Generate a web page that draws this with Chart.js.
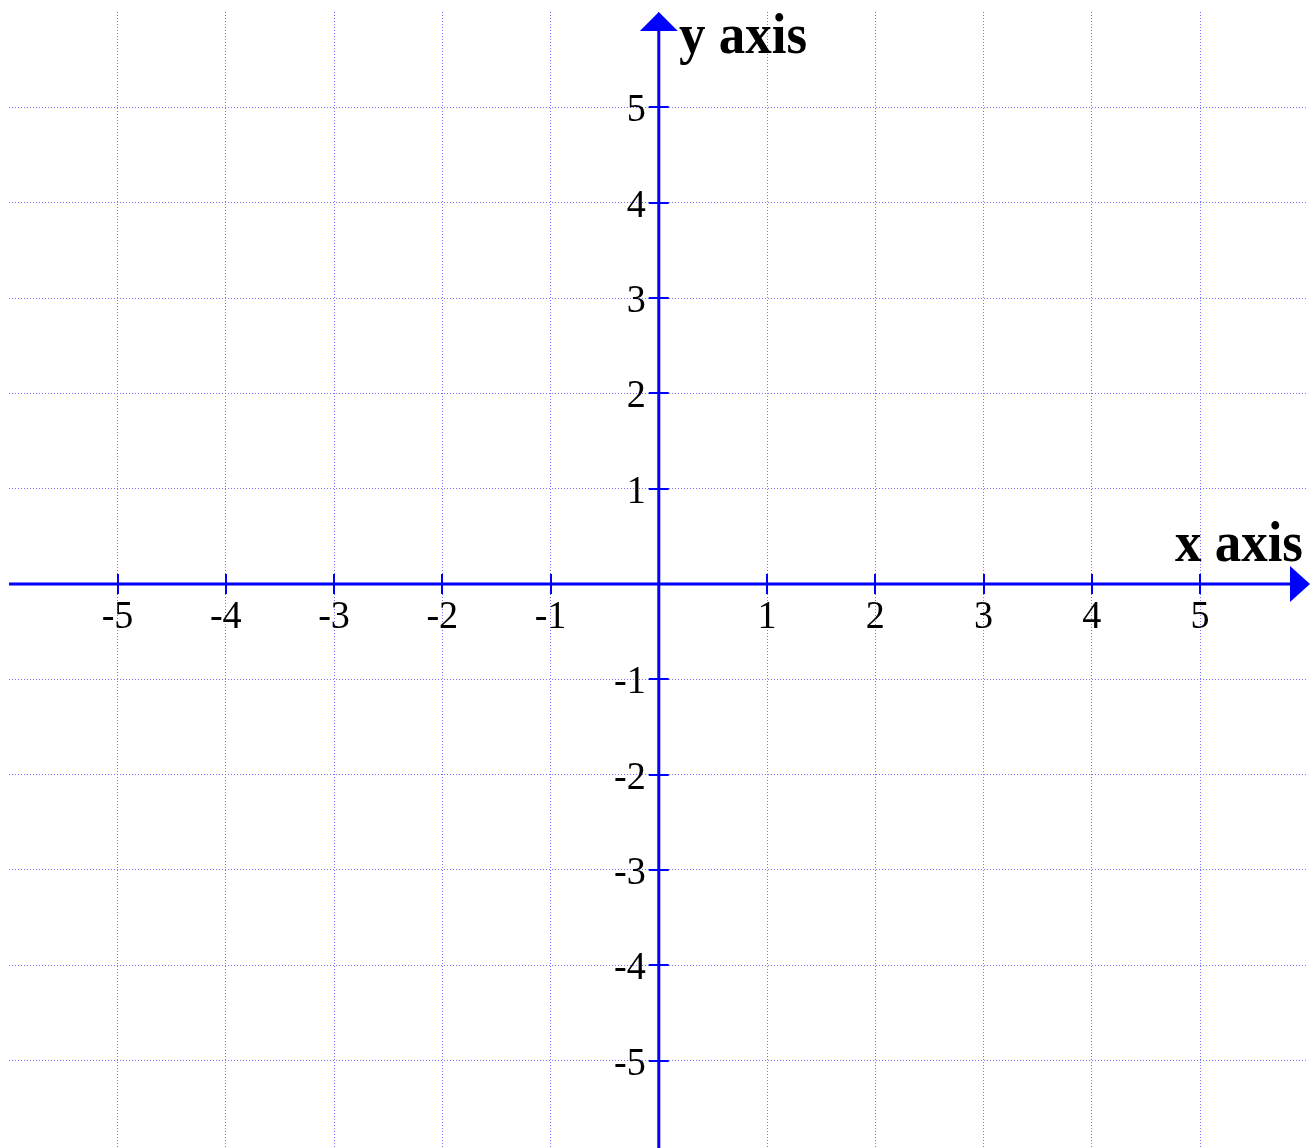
<!DOCTYPE html>
<html>
<head>
<meta charset="utf-8">
<script src="https://cdn.jsdelivr.net/npm/chart.js@4/dist/chart.umd.min.js"></script>
<style>
  html, body { margin: 0; padding: 0; background: #ffffff; }
  #wrap { width: 1310px; height: 1148px; position: relative; }
</style>
</head>
<body>
<div id="wrap"><canvas id="c" width="1310" height="1148"></canvas></div>
<script>
// ---- data ----
const xTickValues = [-5, -4, -3, -2, -1, 0, 1, 2, 3, 4, 5];
const yTickValues = [-5, -4, -3, -2, -1, 0, 1, 2, 3, 4, 5];
const xTickLabels = ['-5', '-4', '-3', '-2', '-1', '', '1', '2', '3', '4', '5'];
const yTickLabels = ['-5', '-4', '-3', '-2', '-1', '', '1', '2', '3', '4', '5'];
const xRange = [-6.086, 6.016];
const yRange = [-5.918, 6.128];
const xTitle = 'x axis';
const yTitle = 'y axis';

const AXIS = '#0000ff';
const GRID = 'rgba(100,100,255,0.9)';

function scaledText(ctx, text, x, y, sx) {
  ctx.save();
  ctx.translate(x, y);
  ctx.scale(sx, 1);
  ctx.fillText(text, 0, 0);
  ctx.restore();
}

const axesPlugin = {
  id: 'axesPlugin',
  afterDraw(chart) {
    const ctx = chart.ctx;
    const xs = chart.scales.x, ys = chart.scales.y;
    const x0 = xs.getPixelForValue(0);
    const y0 = ys.getPixelForValue(0);
    ctx.save();
    // trim grid at the top and left edges
    ctx.fillStyle = '#ffffff';
    ctx.fillRect(0, 0, chart.width, 11);
    ctx.fillRect(0, 0, 8, chart.height);
    ctx.fillRect(chart.width - 2, 0, 2, chart.height);
    ctx.strokeStyle = AXIS;
    ctx.fillStyle = AXIS;
    ctx.setLineDash([]);
    // x axis line
    ctx.lineWidth = 3;
    ctx.beginPath();
    ctx.moveTo(9, y0);
    ctx.lineTo(1292, y0);
    ctx.stroke();
    // y axis line
    ctx.beginPath();
    ctx.moveTo(x0, 28);
    ctx.lineTo(x0, chart.height);
    ctx.stroke();
    // arrows
    ctx.beginPath();
    ctx.moveTo(1310, y0);
    ctx.lineTo(1290, y0 - 18);
    ctx.lineTo(1290, y0 + 18);
    ctx.closePath();
    ctx.fill();
    ctx.beginPath();
    ctx.moveTo(x0, 12);
    ctx.lineTo(x0 - 19, 31);
    ctx.lineTo(x0 + 19, 31);
    ctx.closePath();
    ctx.fill();
    // tick marks
    ctx.lineWidth = 2;
    xTickValues.forEach(v => {
      if (v === 0) return;
      const p = Math.round(xs.getPixelForValue(v));
      ctx.beginPath();
      ctx.moveTo(p, y0 - 10);
      ctx.lineTo(p, y0 + 10);
      ctx.stroke();
    });
    yTickValues.forEach(v => {
      if (v === 0) return;
      const p = Math.round(ys.getPixelForValue(v));
      ctx.beginPath();
      ctx.moveTo(x0 - 10, p);
      ctx.lineTo(x0 + 10, p);
      ctx.stroke();
    });
    // tick labels
    ctx.fillStyle = '#000000';
    ctx.font = '41px "Liberation Serif", "Times New Roman", serif';
    ctx.textBaseline = 'alphabetic';
    ctx.textAlign = 'center';
    xTickValues.forEach((v, i) => {
      const p = xs.getPixelForValue(v);
      scaledText(ctx, xTickLabels[i], p, y0 + 44, 0.93);
    });
    ctx.textAlign = 'right';
    yTickValues.forEach((v, i) => {
      const p = ys.getPixelForValue(v);
      scaledText(ctx, yTickLabels[i], x0 - 13, p + 14, 0.93);
    });
    // titles
    ctx.font = 'bold 57px "Liberation Serif", "Times New Roman", serif';
    ctx.textAlign = 'left';
    scaledText(ctx, yTitle, 679, 53, 0.93);
    ctx.textAlign = 'right';
    scaledText(ctx, xTitle, 1303, 561, 0.93);
    ctx.restore();
  }
};

new Chart(document.getElementById('c'), {
  type: 'scatter',
  data: { datasets: [{ data: [], showLine: false }] },
  options: {
    responsive: false,
    animation: false,
    maintainAspectRatio: false,
    layout: { padding: 0 },
    plugins: { legend: { display: false }, tooltip: { enabled: false }, title: { display: false } },
    scales: {
      x: {
        type: 'linear',
        position: { y: 0 },
        min: xRange[0],
        max: xRange[1],
        afterBuildTicks: (s) => { s.ticks = xTickValues.map(v => ({ value: v })); },
        ticks: { display: false },
        grid: { color: GRID, lineWidth: 1, drawTicks: false },
        border: { display: false, dash: [1, 2] }
      },
      y: {
        type: 'linear',
        position: { x: 0 },
        min: yRange[0],
        max: yRange[1],
        afterBuildTicks: (s) => { s.ticks = yTickValues.map(v => ({ value: v })); },
        ticks: { display: false },
        grid: { color: GRID, lineWidth: 1, drawTicks: false },
        border: { display: false, dash: [1, 2] }
      }
    }
  },
  plugins: [axesPlugin]
});
</script>
</body>
</html>
